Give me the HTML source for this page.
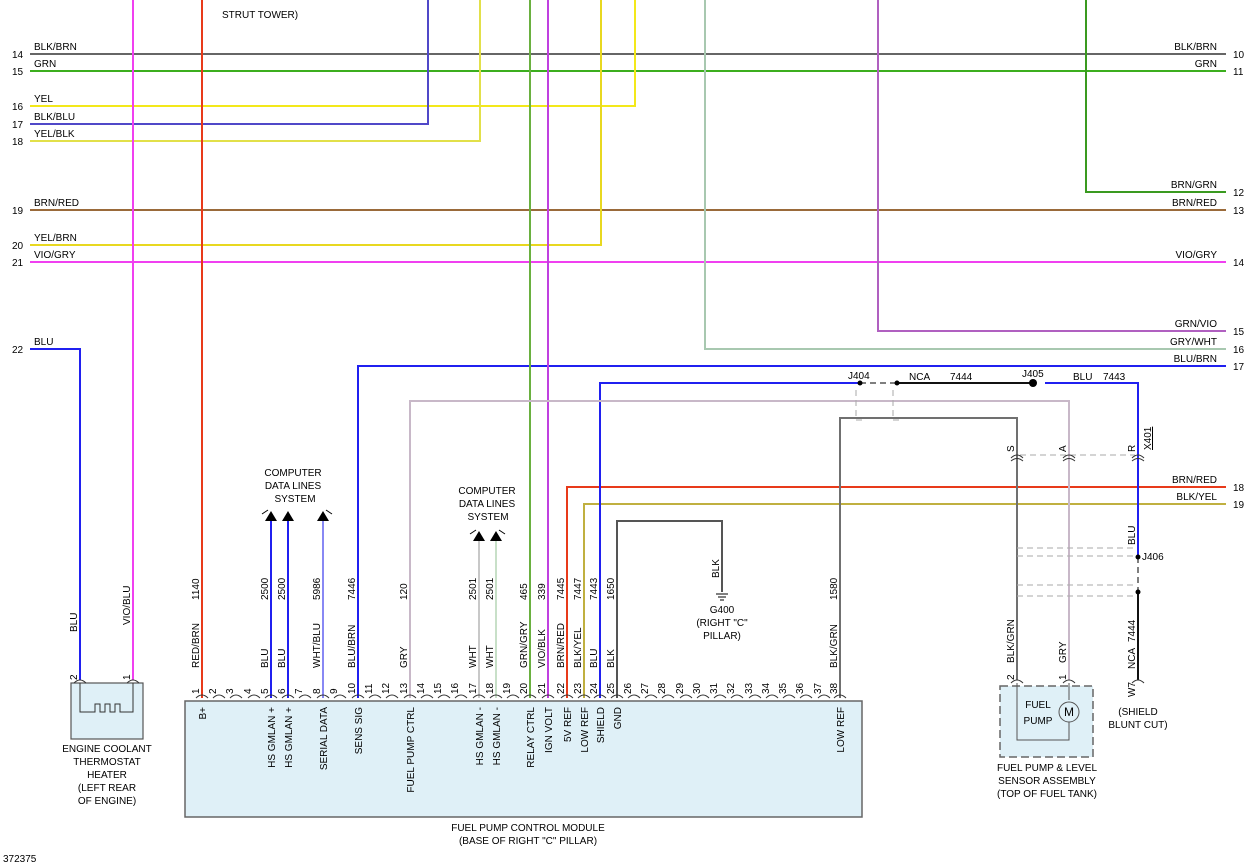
<!DOCTYPE html>
<html><head><meta charset="utf-8"><style>
html,body{margin:0;padding:0;background:#fff}
svg{display:block;font-family:"Liberation Sans",sans-serif;font-size:10px}
</style></head><body>
<svg width="1252" height="867" viewBox="0 0 1252 867" xmlns="http://www.w3.org/2000/svg">
<rect width="1252" height="867" fill="#fff"/>
<rect x="185" y="701" width="677" height="116" fill="#dff0f7" stroke="#666" stroke-width="1.5"/>
<rect x="71" y="683" width="72" height="56" fill="#dff0f7" stroke="#555" stroke-width="1.2"/>
<path d="M80 683 V712 H95 V704 H100 V712 H105 V704 H110 V712 H115 V704 H120 V712 H133 V683" fill="none" stroke="#333"/>
<rect x="1000" y="686" width="93" height="71" fill="#dff0f7" stroke="#666" stroke-width="1.5" stroke-dasharray="8,4"/>
<path d="M1017 683 V740 H1069 V722 M1069 700 V683" fill="none" stroke="#555"/>
<circle cx="1069" cy="712" r="10" fill="none" stroke="#555"/>
<text x="1069" y="716" text-anchor="middle" font-size="12">M</text>
<text x="1038" y="708" text-anchor="middle">FUEL</text>
<text x="1038" y="724" text-anchor="middle">PUMP</text>

<g fill="none" stroke-width="2">
<path d="M30 54 H1226" stroke="#666"/>
<path d="M30 71 H1226" stroke="#3cae1e"/>
<path d="M30 106 H635 V0" stroke="#f3e81a"/>
<path d="M30 124 H428 V0" stroke="#5048c8"/>
<path d="M30 141 H480 V0" stroke="#e2e04a"/>
<path d="M30 210 H1226" stroke="#9a6a3a"/>
<path d="M30 245 H601 V0" stroke="#e8d820"/>
<path d="M30 262 H1226" stroke="#f040f0"/>
<path d="M30 349 H80 V680" stroke="#2020f0"/>
<path d="M1086 0 V192 H1226" stroke="#3a9a20"/>
<path d="M878 0 V331 H1226" stroke="#b060c0"/>
<path d="M705 0 V349 H1226" stroke="#a8c8b0"/>
<path d="M358 698 V366 H1226" stroke="#2020f0"/>
<path d="M567 698 V487 H1226" stroke="#e83a1a"/>
<path d="M584 698 V504 H1226" stroke="#c0b040"/>
<path d="M202 0 V698" stroke="#e83a1a"/>
<path d="M133 0 V680" stroke="#f040f0"/>
<path d="M530 0 V698" stroke="#6ab040"/>
<path d="M548 0 V698" stroke="#c040e0"/>
<path d="M271 520 V698" stroke="#2020f0"/>
<path d="M288 520 V698" stroke="#2020f0"/>
<path d="M323 520 V698" stroke="#6060f0" stroke-width="1.5"/>
<path d="M479 540 V698" stroke="#c8c8c8"/>
<path d="M496 540 V698" stroke="#c8e0c8"/>
<path d="M600 698 V383 H860" stroke="#2020f0"/>
<path d="M897 383 H1033" stroke="#111"/>
<path d="M1045 383 H1138 V557" stroke="#2020f0"/>
<path d="M1138 592 V680" stroke="#111"/>
<path d="M410 698 V401 H1069 V680" stroke="#c8b8c8"/>
<path d="M840 698 V418 H1017 V680" stroke="#707070"/>
<path d="M617 698 V521 H722 V592" stroke="#555"/>
</g>
<path d="M860 383 H897 M1138 557 V592" stroke="#555" stroke-dasharray="6,4" stroke-width="1.5" fill="none"/>
<path d="M856 390 V420 H866 M893 390 V420 H903 M1020 455 H1135 M1017 548 H1135 M1017 556 H1135 M1017 585 H1135 M1017 596 H1135" stroke="#aaa" stroke-dasharray="6,4" fill="none"/>
<circle cx="860" cy="383" r="2.5"/><circle cx="897" cy="383" r="2.5"/><circle cx="1033" cy="383" r="4"/>
<circle cx="1138" cy="557" r="2.5"/><circle cx="1138" cy="592" r="2.5"/>
<path d="M716 594 H728 M718 597 H726 M720 600 H724" stroke="#000"/>
<g fill="#000"><path d="M265 521 L271 511 L277 521Z M282 521 L288 511 L294 521Z M317 521 L323 511 L329 521Z M473 541 L479 531 L485 541Z M490 541 L496 531 L502 541Z"/></g>
<path d="M262 514 L268 510 M326 510 L332 514 M470 534 L476 530 M499 530 L505 534" stroke="#000" fill="none"/>
<g fill="none" stroke="#333" stroke-width="1">
<path d="M196 698 q6 -6 12 0 M213 698 q6 -6 12 0 M230 698 q6 -6 12 0 M248 698 q6 -6 12 0 M265 698 q6 -6 12 0 M282 698 q6 -6 12 0 M299 698 q6 -6 12 0 M317 698 q6 -6 12 0 M334 698 q6 -6 12 0 M352 698 q6 -6 12 0 M369 698 q6 -6 12 0 M386 698 q6 -6 12 0 M404 698 q6 -6 12 0 M421 698 q6 -6 12 0 M438 698 q6 -6 12 0 M455 698 q6 -6 12 0 M473 698 q6 -6 12 0 M490 698 q6 -6 12 0 M507 698 q6 -6 12 0 M524 698 q6 -6 12 0 M542 698 q6 -6 12 0 M561 698 q6 -6 12 0 M578 698 q6 -6 12 0 M594 698 q6 -6 12 0 M611 698 q6 -6 12 0 M628 698 q6 -6 12 0 M645 698 q6 -6 12 0 M662 698 q6 -6 12 0 M680 698 q6 -6 12 0 M697 698 q6 -6 12 0 M714 698 q6 -6 12 0 M731 698 q6 -6 12 0 M749 698 q6 -6 12 0 M766 698 q6 -6 12 0 M783 698 q6 -6 12 0 M800 698 q6 -6 12 0 M818 698 q6 -6 12 0 M834 698 q6 -6 12 0"/>
<path d="M74 683 q6 -6 12 0 M127 683 q6 -6 12 0 M1011 683 q6 -6 12 0 M1063 683 q6 -6 12 0 M1132 683 q6 -6 12 0"/>
<path d="M1011 458 q6 -6 12 0 M1011 461 q6 -5 12 0 M1063 458 q6 -6 12 0 M1063 461 q6 -5 12 0 M1132 458 q6 -6 12 0 M1132 461 q6 -5 12 0"/>
</g>
<g fill="#000">
<text x="12" y="58">14</text><text x="12" y="75">15</text><text x="12" y="110">16</text><text x="12" y="128">17</text><text x="12" y="145">18</text><text x="12" y="214">19</text><text x="12" y="249">20</text><text x="12" y="266">21</text><text x="12" y="353">22</text>
<text x="34" y="50">BLK/BRN</text><text x="34" y="67">GRN</text><text x="34" y="102">YEL</text><text x="34" y="120">BLK/BLU</text><text x="34" y="137">YEL/BLK</text><text x="34" y="206">BRN/RED</text><text x="34" y="241">YEL/BRN</text><text x="34" y="258">VIO/GRY</text><text x="34" y="345">BLU</text>
<text x="222" y="18">STRUT TOWER)</text>
<g text-anchor="end">
<text x="1217" y="50">BLK/BRN</text><text x="1217" y="67">GRN</text><text x="1217" y="188">BRN/GRN</text><text x="1217" y="206">BRN/RED</text><text x="1217" y="258">VIO/GRY</text><text x="1217" y="327">GRN/VIO</text><text x="1217" y="345">GRY/WHT</text><text x="1217" y="362">BLU/BRN</text><text x="1217" y="483">BRN/RED</text><text x="1217" y="500">BLK/YEL</text>
</g>
<text x="1233" y="58">10</text><text x="1233" y="75">11</text><text x="1233" y="196">12</text><text x="1233" y="214">13</text><text x="1233" y="266">14</text><text x="1233" y="335">15</text><text x="1233" y="353">16</text><text x="1233" y="370">17</text><text x="1233" y="491">18</text><text x="1233" y="508">19</text>
<text x="848" y="379">J404</text><text x="909" y="380">NCA</text><text x="950" y="380">7444</text><text x="1022" y="377">J405</text><text x="1073" y="380">BLU</text><text x="1103" y="380">7443</text>
<text x="1142" y="560">J406</text>
<text x="293" y="476" text-anchor="middle">COMPUTER</text><text x="293" y="489" text-anchor="middle">DATA LINES</text><text x="295" y="502" text-anchor="middle">SYSTEM</text>
<text x="487" y="494" text-anchor="middle">COMPUTER</text><text x="487" y="507" text-anchor="middle">DATA LINES</text><text x="488" y="520" text-anchor="middle">SYSTEM</text>
<text x="722" y="613" text-anchor="middle">G400</text><text x="722" y="626" text-anchor="middle">(RIGHT "C"</text><text x="722" y="639" text-anchor="middle">PILLAR)</text>
<text x="107" y="752" text-anchor="middle">ENGINE COOLANT</text><text x="107" y="765" text-anchor="middle">THERMOSTAT</text><text x="107" y="778" text-anchor="middle">HEATER</text><text x="107" y="791" text-anchor="middle">(LEFT REAR</text><text x="107" y="804" text-anchor="middle">OF ENGINE)</text>
<text x="528" y="831" text-anchor="middle">FUEL PUMP CONTROL MODULE</text><text x="528" y="844" text-anchor="middle">(BASE OF RIGHT "C" PILLAR)</text>
<text x="1047" y="771" text-anchor="middle">FUEL PUMP &amp; LEVEL</text><text x="1047" y="784" text-anchor="middle">SENSOR ASSEMBLY</text><text x="1047" y="797" text-anchor="middle">(TOP OF FUEL TANK)</text>
<text x="1138" y="715" text-anchor="middle">(SHIELD</text><text x="1138" y="728" text-anchor="middle">BLUNT CUT)</text>
<text x="3" y="862">372375</text>
</g>
<g fill="#000">
<text transform="translate(77,632) rotate(-90)">BLU</text>
<text transform="translate(130,625) rotate(-90)">VIO/BLU</text>
<text transform="translate(77,680) rotate(-90)">2</text><text transform="translate(130,680) rotate(-90)">1</text>
<text transform="translate(199,600) rotate(-90)">1140</text><text transform="translate(199,668) rotate(-90)">RED/BRN</text>
<text transform="translate(268,600) rotate(-90)">2500</text><text transform="translate(268,668) rotate(-90)">BLU</text>
<text transform="translate(285,600) rotate(-90)">2500</text><text transform="translate(285,668) rotate(-90)">BLU</text>
<text transform="translate(320,600) rotate(-90)">5986</text><text transform="translate(320,668) rotate(-90)">WHT/BLU</text>
<text transform="translate(355,600) rotate(-90)">7446</text><text transform="translate(355,668) rotate(-90)">BLU/BRN</text>
<text transform="translate(407,600) rotate(-90)">120</text><text transform="translate(407,668) rotate(-90)">GRY</text>
<text transform="translate(476,600) rotate(-90)">2501</text><text transform="translate(476,668) rotate(-90)">WHT</text>
<text transform="translate(493,600) rotate(-90)">2501</text><text transform="translate(493,668) rotate(-90)">WHT</text>
<text transform="translate(527,600) rotate(-90)">465</text><text transform="translate(527,668) rotate(-90)">GRN/GRY</text>
<text transform="translate(545,600) rotate(-90)">339</text><text transform="translate(545,668) rotate(-90)">VIO/BLK</text>
<text transform="translate(564,600) rotate(-90)">7445</text><text transform="translate(564,668) rotate(-90)">BRN/RED</text>
<text transform="translate(581,600) rotate(-90)">7447</text><text transform="translate(581,668) rotate(-90)">BLK/YEL</text>
<text transform="translate(597,600) rotate(-90)">7443</text><text transform="translate(597,668) rotate(-90)">BLU</text>
<text transform="translate(614,600) rotate(-90)">1650</text><text transform="translate(614,668) rotate(-90)">BLK</text>
<text transform="translate(719,578) rotate(-90)">BLK</text>
<text transform="translate(837,600) rotate(-90)">1580</text><text transform="translate(837,668) rotate(-90)">BLK/GRN</text>
<text transform="translate(1014,663) rotate(-90)">BLK/GRN</text><text transform="translate(1014,680) rotate(-90)">2</text>
<text transform="translate(1066,663) rotate(-90)">GRY</text><text transform="translate(1066,680) rotate(-90)">1</text>
<text transform="translate(1135,642) rotate(-90)">7444</text><text transform="translate(1135,669) rotate(-90)">NCA</text><text transform="translate(1135,697) rotate(-90)">W7</text>
<text transform="translate(1135,545) rotate(-90)">BLU</text>
<text transform="translate(1014,452) rotate(-90)">S</text><text transform="translate(1066,452) rotate(-90)">A</text><text transform="translate(1135,452) rotate(-90)">R</text>
<text transform="translate(1151,450) rotate(-90)" text-decoration="underline">X401</text>
</g>
<g fill="#000">
<text transform="translate(199,694) rotate(-90)">1</text><text transform="translate(216,694) rotate(-90)">2</text><text transform="translate(233,694) rotate(-90)">3</text><text transform="translate(251,694) rotate(-90)">4</text><text transform="translate(268,694) rotate(-90)">5</text><text transform="translate(285,694) rotate(-90)">6</text><text transform="translate(302,694) rotate(-90)">7</text><text transform="translate(320,694) rotate(-90)">8</text><text transform="translate(337,694) rotate(-90)">9</text><text transform="translate(355,694) rotate(-90)">10</text><text transform="translate(372,694) rotate(-90)">11</text><text transform="translate(389,694) rotate(-90)">12</text><text transform="translate(407,694) rotate(-90)">13</text><text transform="translate(424,694) rotate(-90)">14</text><text transform="translate(441,694) rotate(-90)">15</text><text transform="translate(458,694) rotate(-90)">16</text><text transform="translate(476,694) rotate(-90)">17</text><text transform="translate(493,694) rotate(-90)">18</text><text transform="translate(510,694) rotate(-90)">19</text><text transform="translate(527,694) rotate(-90)">20</text><text transform="translate(545,694) rotate(-90)">21</text><text transform="translate(564,694) rotate(-90)">22</text><text transform="translate(581,694) rotate(-90)">23</text><text transform="translate(597,694) rotate(-90)">24</text><text transform="translate(614,694) rotate(-90)">25</text><text transform="translate(631,694) rotate(-90)">26</text><text transform="translate(648,694) rotate(-90)">27</text><text transform="translate(665,694) rotate(-90)">28</text><text transform="translate(683,694) rotate(-90)">29</text><text transform="translate(700,694) rotate(-90)">30</text><text transform="translate(717,694) rotate(-90)">31</text><text transform="translate(734,694) rotate(-90)">32</text><text transform="translate(752,694) rotate(-90)">33</text><text transform="translate(769,694) rotate(-90)">34</text><text transform="translate(786,694) rotate(-90)">35</text><text transform="translate(803,694) rotate(-90)">36</text><text transform="translate(821,694) rotate(-90)">37</text><text transform="translate(837,694) rotate(-90)">38</text>
</g>
<g fill="#000" text-anchor="end">
<text transform="translate(206,707) rotate(-90)">B+</text>
<text transform="translate(275,707) rotate(-90)">HS GMLAN +</text>
<text transform="translate(292,707) rotate(-90)">HS GMLAN +</text>
<text transform="translate(327,707) rotate(-90)">SERIAL DATA</text>
<text transform="translate(362,707) rotate(-90)">SENS SIG</text>
<text transform="translate(414,707) rotate(-90)">FUEL PUMP CTRL</text>
<text transform="translate(483,707) rotate(-90)">HS GMLAN -</text>
<text transform="translate(500,707) rotate(-90)">HS GMLAN -</text>
<text transform="translate(534,707) rotate(-90)">RELAY CTRL</text>
<text transform="translate(552,707) rotate(-90)">IGN VOLT</text>
<text transform="translate(571,707) rotate(-90)">5V REF</text>
<text transform="translate(588,707) rotate(-90)">LOW REF</text>
<text transform="translate(604,707) rotate(-90)">SHIELD</text>
<text transform="translate(621,707) rotate(-90)">GND</text>
<text transform="translate(844,707) rotate(-90)">LOW REF</text>
</g>
</svg>
</body></html>
